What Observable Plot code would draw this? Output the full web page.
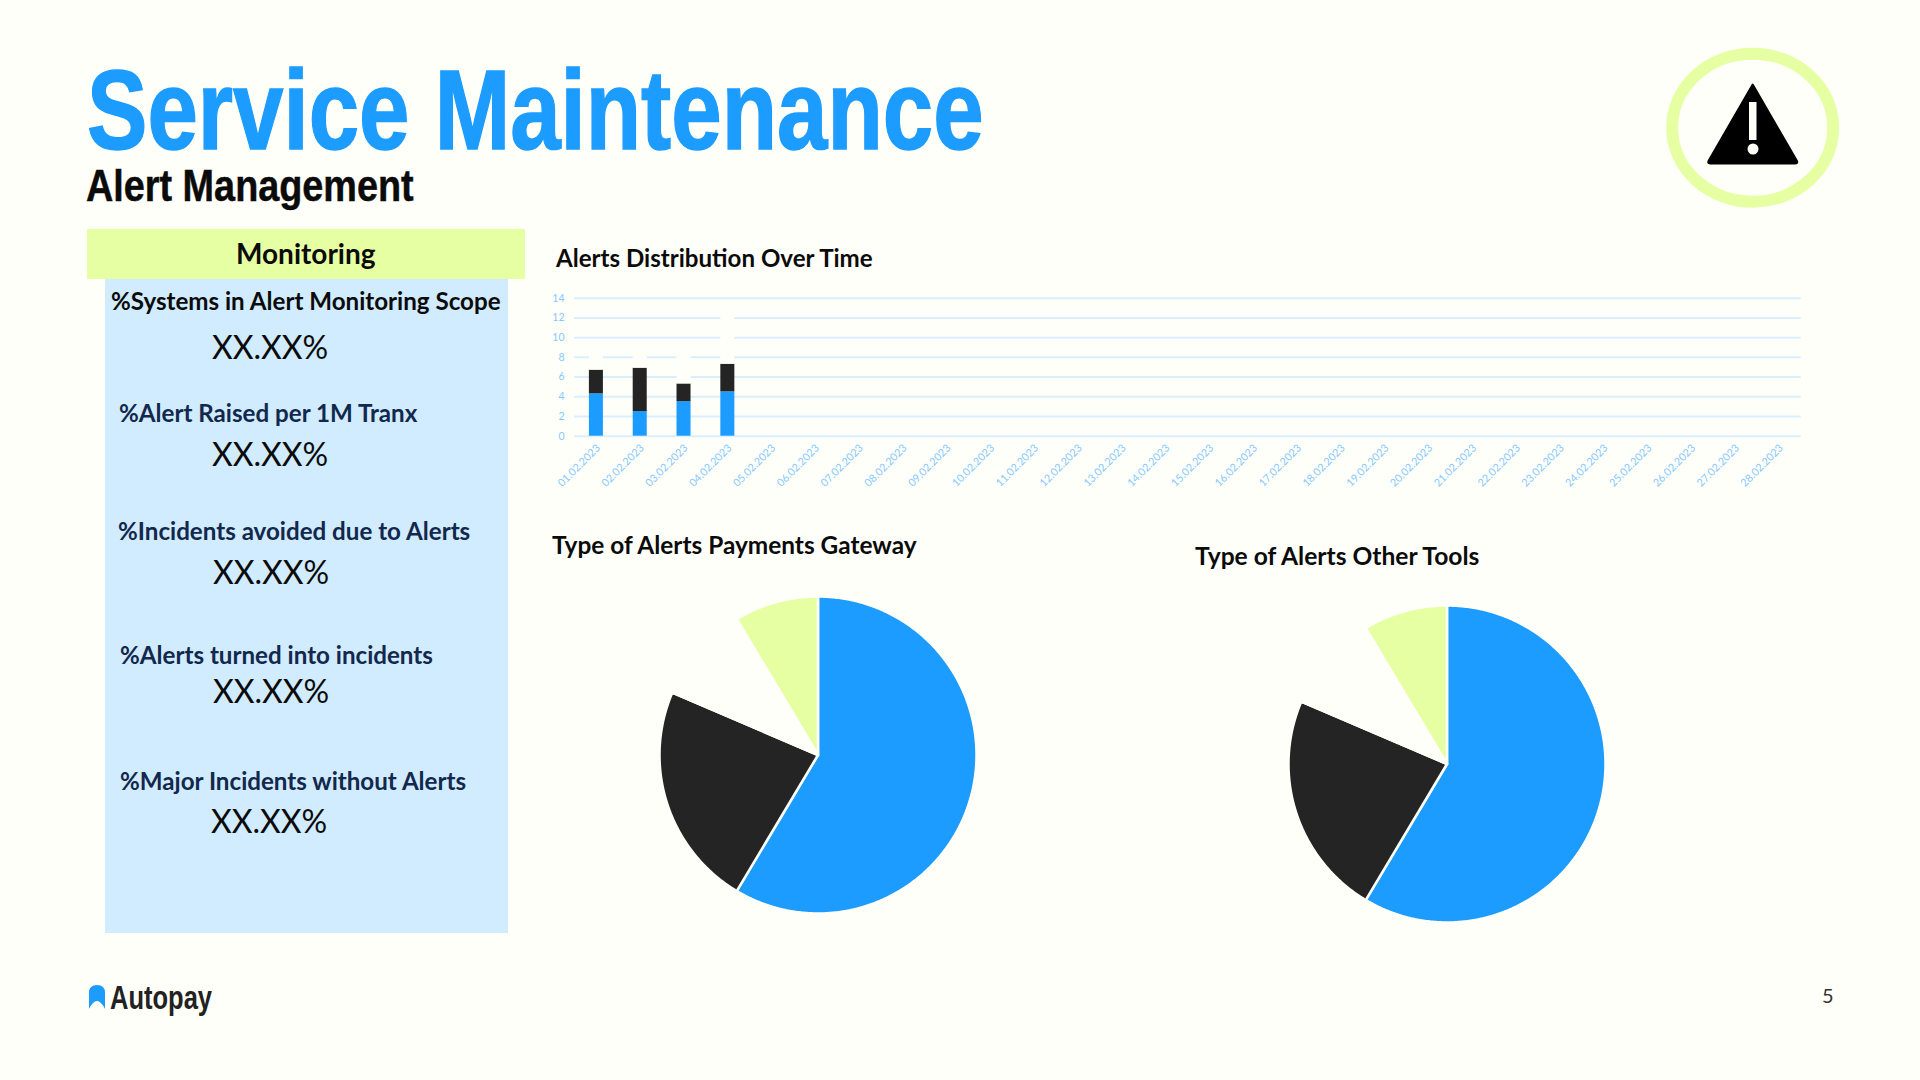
<!DOCTYPE html>
<html><head><meta charset="utf-8">
<script src="https://cdn.jsdelivr.net/npm/d3@7"></script>
<script src="https://cdn.jsdelivr.net/npm/@observablehq/plot@0.6"></script>
<style>
html,body{margin:0;padding:0;background:#FFFFFA;width:1920px;height:1080px;overflow:hidden}
#page{position:relative;width:1920px;height:1080px;background:#FFFFFA;font-family:Lato,sans-serif;color:#0b0b0b}
#page>div,#page>svg,.chart{position:absolute;white-space:nowrap}
.chart svg{display:block;background:transparent}
.t{line-height:1;transform:translateY(-50%)}
.head{font-family:"Liberation Sans",sans-serif;font-weight:700;transform-origin:left center}
.lbl{font-size:24.15px;font-weight:700;color:#12284c}
.val{font-size:32px;color:#0b0b0b}
.ct{font-size:24.4px;font-weight:700;color:#0b0b0b}
</style></head><body>
<div id="page"></div>
<script>
const pageTitle = "Service Maintenance";
const pageSubtitle = "Alert Management";
const panelTitle = "Monitoring";
const kpiLabels = ["%Systems in Alert Monitoring Scope","%Alert Raised per 1M Tranx","%Incidents avoided due to Alerts","%Alerts turned into incidents","%Major Incidents without Alerts"];
const kpiValues = ["XX.XX%","XX.XX%","XX.XX%","XX.XX%","XX.XX%"];
const barTitle = "Alerts Distribution Over Time";
const pieTitleA = "Type of Alerts Payments Gateway";
const pieTitleB = "Type of Alerts Other Tools";
const dates = ["01.02.2023","02.02.2023","03.02.2023","04.02.2023","05.02.2023","06.02.2023","07.02.2023","08.02.2023","09.02.2023","10.02.2023","11.02.2023","12.02.2023","13.02.2023","14.02.2023","15.02.2023","16.02.2023","17.02.2023","18.02.2023","19.02.2023","20.02.2023","21.02.2023","22.02.2023","23.02.2023","24.02.2023","25.02.2023","26.02.2023","27.02.2023","28.02.2023"];
const seriesNames = ["Series 1","Series 2","Series 3"];
const series1 = [4.3,2.5,3.5,4.5];
const series2 = [2.4,4.4,1.8,2.8];
const series3 = [2,2,3,5];
const yTicks = [0,2,4,6,8,10,12,14];
const sliceNames = ["Type 1","Type 2","Type 3","Type 4"];
const pieValuesA = [8.2,3.2,1.4,1.2];
const pieValuesB = [8.2,3.2,1.4,1.2];

const BG="#FFFFFA", BLUE="#1C9CFF", DARK="#242424", LIME="#E6FFA3", PALE="#D1EBFF", GRID="#D9EEFF", TICK="#85C8FF";
const page=document.getElementById("page");
function add(text,cls,left,top,extra){const d=document.createElement("div");d.className=cls;d.textContent=text;d.style.left=left+"px";d.style.top=top+"px";if(extra)Object.assign(d.style,extra);page.appendChild(d);return d;}
function box(l,t,w,h,c){const d=document.createElement("div");Object.assign(d.style,{left:l+"px",top:t+"px",width:w+"px",height:h+"px",background:c});page.appendChild(d);}

box(87,229,438,50,LIME);
box(105,279,403,654,PALE);
add(pageTitle,"t head",87,110,{fontSize:"113px",lineHeight:"0.8",color:BLUE,transform:"translateY(-50%) scaleX(0.802)",webkitTextStroke:"1.5px "+BLUE});
add(pageSubtitle,"t head",86,186,{fontSize:"45px",lineHeight:"0.9",color:"#0b0b0b",transform:"translateY(-50%) scaleX(0.84)",webkitTextStroke:"0.5px #0b0b0b"});
add(panelTitle,"t",236,253,{fontSize:"28px",fontWeight:"700",color:"#0b0b0b"});
const lx=[111,119,118,120,120], ly=[301,413,531,655,781];
const vx=[212,212,213,213,211], vy=[347,454,572,691,821];
kpiLabels.forEach((s,i)=>add(s,"t lbl",lx[i],ly[i],i==0?{color:"#0b0b0b"}:null));
kpiValues.forEach((s,i)=>add(s,"t val",vx[i],vy[i]));
add(barTitle,"t ct",556,258,{fontSize:"24.1px"});
add(pieTitleA,"t ct",552,545);
add(pieTitleB,"t ct",1195,556,{fontSize:"24.6px"});
add("5","t",1822,995,{fontSize:"20px",color:"#333"});
add("Autopay","t head",110,997,{fontSize:"34px",color:"#222",transform:"translateY(-50%) scaleX(0.75)"});

page.insertAdjacentHTML("beforeend",`
<svg style="left:1640px;top:30px" width="230" height="190" viewBox="1640 30 230 190">
<ellipse cx="1752.7" cy="127.7" rx="80.5" ry="74" fill="none" stroke="${LIME}" stroke-width="12"/>
<path d="M1752.7 84.5 L1797 161 Q1798 163.5 1795 163.5 L1710.5 163.5 Q1707.5 163.5 1708.5 161 Z" fill="#000" stroke="#000" stroke-width="2" stroke-linejoin="round"/>
<rect x="1749" y="102" width="7.5" height="38" fill="${BG}"/><circle cx="1753" cy="149" r="5.5" fill="${BG}"/>
</svg>
<svg style="left:85px;top:980px" width="24" height="34" viewBox="85 980 24 34">
<path d="M89 1009 L89 993 Q89 985 97 985 Q105 985 105 993 L105 1009 Q101 1001 97 1001 Q93 1001 89 1009 Z" fill="${BLUE}"/></svg>`);

const barRows = seriesNames.flatMap((name,k)=>[series1,series2,series3][k].map((v,i)=>({date:dates[i],series:name,value:v})));
const barPlot = Plot.plot({
  width:1270,height:225,marginTop:12.7,marginBottom:74.3,marginLeft:34,marginRight:9.3,
  style:{background:"transparent",fontFamily:"Lato,sans-serif"},
  x:{domain:dates,paddingInner:0.68,paddingOuter:0.34,round:false,label:null,axis:null},
  y:{domain:[0,14],label:null,axis:null},
  color:{domain:seriesNames,range:[BLUE,DARK,BG]},
  marks:[
    Plot.ruleY(yTicks,{stroke:GRID,strokeWidth:2}),
    Plot.axisY({ticks:yTicks,tickSize:0,tickPadding:10,fontSize:10.5,fill:TICK,label:null,marginLeft:34}),
    Plot.axisX({tickSize:0,tickRotate:-45,tickPadding:10,dx:2,fontSize:10.7,fill:TICK,label:null,marginBottom:74.3}),
    Plot.barY(barRows,{x:"date",y:"value",fill:"series",order:seriesNames})
  ]
});
const bc=document.createElement("div");bc.className="chart";bc.style.left="540px";bc.style.top="285px";bc.appendChild(barPlot);page.appendChild(bc);

function sliceRows(values){
  const total=d3.sum(values);let start=0;const rows=[];
  values.forEach((v,i)=>{
    const a0=start/total*2*Math.PI,a1=(start+v)/total*2*Math.PI;start+=v;
    rows.push({slice:sliceNames[i],x:0,y:0});
    const n=Math.ceil((a1-a0)/0.01);
    for(let j=0;j<=n;j++){const a=a0+(a1-a0)*j/n;rows.push({slice:sliceNames[i],x:Math.sin(a),y:Math.cos(a)});}
    rows.push({slice:sliceNames[i],x:0,y:0});
  });
  return rows;
}
function pie(values,cx,cy){
  const r=158.5,m=6;
  const p=Plot.plot({
    width:2*(r+m),height:2*(r+m),margin:m,
    style:{background:"transparent"},
    x:{domain:[-1,1],axis:null},y:{domain:[-1,1],axis:null},
    color:{domain:sliceNames,range:[BLUE,DARK,BG,LIME]},
    marks:[Plot.line(sliceRows(values),{x:"x",y:"y",z:"slice",fill:"slice",stroke:BG,strokeWidth:2.5,curve:"linear"})]
  });
  const c=document.createElement("div");c.className="chart";c.style.left=(cx-r-m)+"px";c.style.top=(cy-r-m)+"px";c.appendChild(p);page.appendChild(c);
}
pie(pieValuesA,817,754);
pie(pieValuesB,1446,763);
</script>
</body></html>
